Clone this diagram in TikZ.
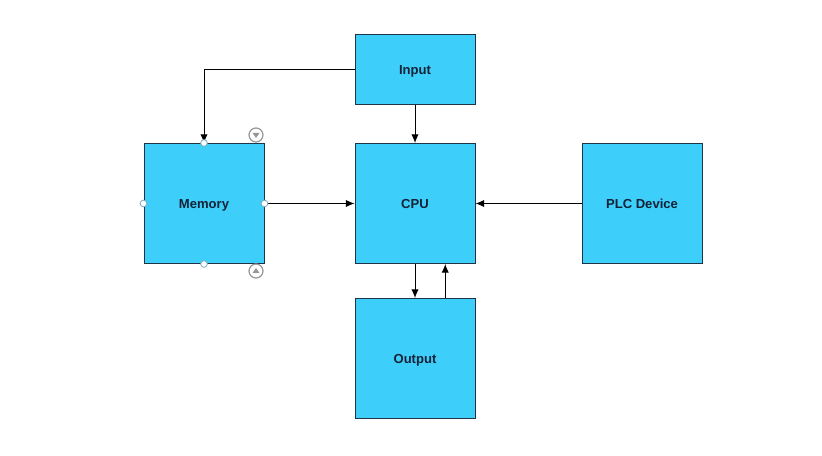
\documentclass[tikz,border=0pt]{standalone}
\usepackage{fontspec}
\setmainfont{Liberation Sans}
\usetikzlibrary{shapes,arrows.meta,positioning,calc}
\usepackage{xcolor}
\definecolor{boxfill}{RGB}{61,207,250}
\definecolor{boxline}{RGB}{32,52,72}
\definecolor{boxtext}{RGB}{20,34,55}
\definecolor{handle}{RGB}{120,170,190}
\definecolor{gripgray}{RGB}{150,150,150}

\tikzset{
  blk/.style={draw=boxline, fill=boxfill, line width=0.75pt, minimum width=90pt,
    text=boxtext, font=\bfseries\fontsize{9.8}{11}\selectfont, inner sep=0pt,
    text depth=0pt, text height=7pt},
  link/.style={-{Latex[length=6.5pt,width=5.5pt]}, line width=0.75pt, black},
  grip/.style={circle, draw=handle, fill=white, line width=0.6pt, minimum size=5pt, inner sep=0pt},
  turn/.style={circle, draw=gripgray, line width=0.9pt, minimum size=10.5pt, inner sep=0pt}
}

\begin{document}
\begin{tikzpicture}[x=0.75pt, y=-0.75pt]
      \useasboundingbox (0,0) rectangle (822,456);

      % Bloki
      \node[blk, minimum height=52.5pt] (in) at (415,69.5) {Input};
      \node[blk, minimum height=90pt] (cpu) at (415,203.5) {CPU};
      \node[blk, minimum height=90pt] (mem) at (204,203.5) {Memory};
      \node[blk, minimum height=90pt] (plc) at (642,203.5) {PLC Device};
      \node[blk, minimum height=90pt] (out) at (415,358.5) {Output};

      % Strzałki
      \draw[link] (in.west) -| (mem.north);
      \draw[link] (in.south) -- (cpu.north);
      \draw[link] (mem.east) -- (cpu.west);
      \draw[link] (plc.west) -- (cpu.east);
      \draw[link] (cpu.south) -- (out.north);
      \draw[link] ($(out.north)!0.5!(out.north east)$) -- ($(cpu.south)!0.5!(cpu.south east)$);

      % Uchwyty zaznaczenia
      \node[grip] (hn) at (mem.north) {};
      \node[grip] (hs) at (mem.south) {};
      \node[grip] (hw) at (mem.west) {};
      \node[grip] (he) at (mem.east) {};
      \node[turn] (up) at (256,135) {};
      \node[turn] (dn) at (256,271) {};
      \fill[gripgray] ($(up)+(-3.5,-2)$) -- ($(up)+(3.5,-2)$) -- ($(up)+(0,3)$) -- cycle;
      \fill[gripgray] ($(dn)+(-3.5,2)$) -- ($(dn)+(3.5,2)$) -- ($(dn)+(0,-3)$) -- cycle;
    \end{tikzpicture}
\end{document}
